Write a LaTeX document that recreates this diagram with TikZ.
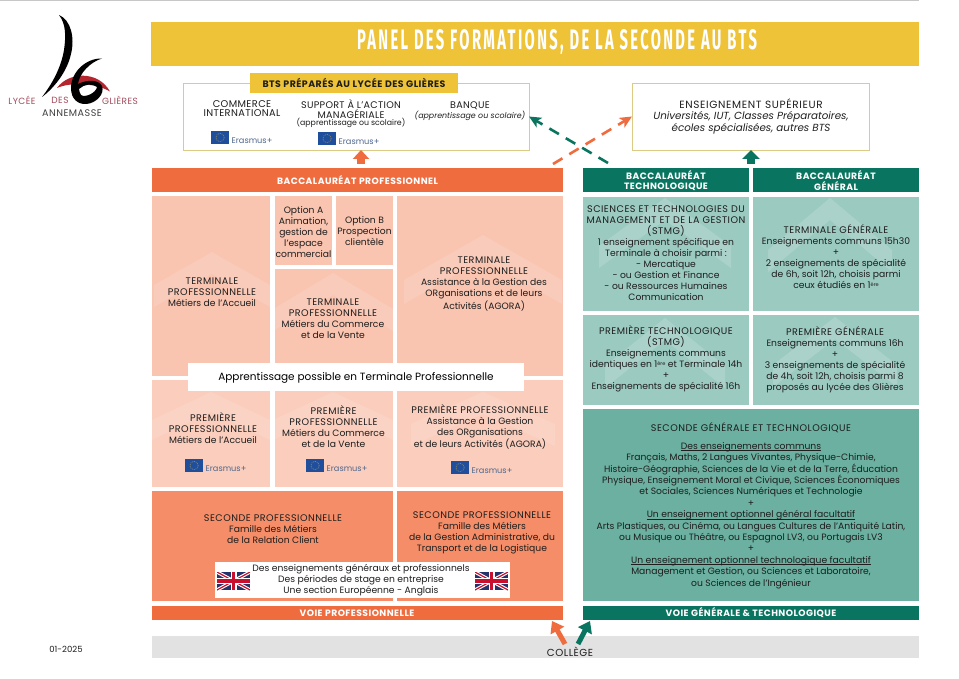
\documentclass[tikz,border=0pt]{standalone}
\usepackage{fontspec}
\usepackage{graphicx}
\setmainfont{Poppins}
\newfontfamily\titlefont[LetterSpace=16]{Fira Sans}
\usetikzlibrary{arrows.meta}
\definecolor{cyellow}{HTML}{EFC337}
\definecolor{ctan}{HTML}{DCCB85}
\definecolor{corange}{HTML}{EF6C3E}
\definecolor{cgreen}{HTML}{097560}
\definecolor{clo}{HTML}{F9C4B0}
\definecolor{cmo}{HTML}{F58E68}
\definecolor{clg}{HTML}{9BCAC0}
\definecolor{cmg}{HTML}{6BB0A0}
\definecolor{ctxt}{HTML}{1E1E1E}
\definecolor{cgrey}{HTML}{E2E2E2}
\definecolor{cflag}{HTML}{1F4E9C}
\definecolor{cdred}{HTML}{B5252E}
\definecolor{cjack}{HTML}{C8102E}
\definecolor{cnavy}{HTML}{26336B}
\definecolor{clogotxt}{HTML}{A24A5C}
\newcommand\sz[2]{\fontsize{#1}{#2}\selectfont}
\newcommand\capsl[1]{{\fontsize{9.6}{11}\selectfont\addfontfeature{LetterSpace=5}#1}}
\newcommand\ulin[1]{\leavevmode\setbox0\hbox{#1}\rlap{\rule[-1.6pt]{\wd0}{.5pt}}\box0}
\newcommand\supere{\raisebox{2.6pt}{\fontsize{5}{5}\selectfont ère}}
\tikzset{
  x=1pt,y=-1pt,
  txt/.style={align=center,inner sep=0pt,text=ctxt,font=\sz{9.2}{11}},
  bartxt/.style={align=center,inner sep=0pt,text=white,font=\bfseries\sz{9.2}{10.5}\addfontfeature{LetterSpace=5}},
  logotxt/.style={inner sep=0pt,text=clogotxt,font=\sz{9}{9}\addfontfeature{LetterSpace=5}},
  rectn/.style={inner sep=0pt,outer sep=0pt,anchor=north west},
  blockor/.style={line width=#1,draw=corange,-{Triangle[length=9pt,width=16pt]}},
  blockgr/.style={line width=#1,draw=cgreen,-{Triangle[length=9pt,width=17pt]}},
  dashor/.style={line width=2.6pt,draw=corange,dash pattern=on 11pt off 8pt,-{Stealth[length=12pt,width=11pt,inset=3pt]}},
  dashgr/.style={line width=2.6pt,draw=cgreen,dash pattern=on 11pt off 8pt,-{Stealth[length=12pt,width=11pt,inset=3pt]}},
  slantor/.style={line width=5pt,draw=corange,-{Triangle[length=11pt,width=15pt]}},
  slantgr/.style={line width=5pt,draw=cgreen,-{Triangle[length=11pt,width=15pt]}},
}
% name, x1, y1, x2, y2, options
\newcommand\rbox[6]{\node[rectn,minimum width={(#4-#2)*1pt},minimum height={(#5-#3)*1pt},#6] (#1) at (#2,#3) {};}
% chevron: opacity, cx, apex y, half width, drop, thickness
\newcommand\chev[6]{\fill[white,opacity=#1] (#2,#3) -- ({#2+#4},{#3+#5}) -- ({#2+#4},{#3+#5+#6}) -- (#2,{#3+#6}) -- ({#2-#4},{#3+#5+#6}) -- ({#2-#4},{#3+#5}) -- cycle;}
% erasmus: name, x, y
\newcommand\erasm[3]{%
  \node[rectn,fill=cflag,minimum width=18pt,minimum height=13pt] (#1) at (#2,#3) {};
  \draw[cyellow!70!cflag,line width=.5pt,dash pattern=on .9pt off 1pt] ({#2+9},{#3+6.5}) circle (4.2pt);
  \node[anchor=west,inner sep=0pt,text=black!35!cflag!75!white,font=\sz{8.2}{9}] (#1t) at ({#2+20.5},{#3+10}) {Erasmus+};}
% union flag: x, y
\newcommand\jack[2]{\begin{scope}[shift={(#1,#2)}]
  \clip (0,0) rectangle (33,18);
  \fill[cnavy] (0,0) rectangle (33,18);
  \draw[white,line width=3.4pt] (0,0) -- (33,18) (33,0) -- (0,18);
  \draw[cjack,line width=1.2pt] (0,0) -- (33,18) (33,0) -- (0,18);
  \draw[white,line width=6pt] (16.5,0) -- (16.5,18) (0,9) -- (33,9);
  \draw[cjack,line width=3.4pt] (16.5,0) -- (16.5,18) (0,9) -- (33,9);
\end{scope}}
\begin{document}
\begin{tikzpicture}
\useasboundingbox (0,0) rectangle (959,679);
\fill[white] (0,0) rectangle (959,679);
\fill[black!22] (0,0) rectangle (919,1.2);
% logo
\fill[cdred] (57,88) .. controls (68,72) and (98,70) .. (110,91.5) .. controls (96,83) and (70,82) .. (57,88) -- cycle;
\fill[black] (59,15) .. controls (71,20) and (75,38) .. (71,54) .. controls (67,72) and (54,88) .. (42,97) .. controls (52,84) and (61,68) .. (64,50) .. controls (66,36) and (66,24) .. (59,15) -- cycle;
\fill[black,even odd rule] (102,58.5) .. controls (86,58) and (71,72) .. (71,88) .. controls (71,99) and (78,104.5) .. (86,104) .. controls (96,103.5) and (105,94) .. (102,86) .. controls (99,80) and (88,79) .. (78,84) .. controls (79,74) and (90,62) .. (102,58.5) -- cycle
 (79,89) .. controls (84,84) and (93,83) .. (97,87) .. controls (96,93) and (85,98) .. (81,95) .. controls (80,93) and (79,91) .. (79,89) -- cycle;
\node[logotxt] (logoa) at (22,100) {LYCÉE};
\node[logotxt] (logob) at (60,100) {DES};
\node[logotxt] (logoc) at (120,100) {GLIÈRES};
\node[logotxt,text=black!75,font=\sz{9.6}{10}\addfontfeature{LetterSpace=5}] (logod) at (72,113.5) {ANNEMASSE};
\node[inner sep=0pt,text=ctxt,font=\sz{8.5}{9}] (date) at (66,649) {01-2025};
% title
\rbox{titlebar}{151}{22}{919}{66}{fill=cyellow}
\node[inner sep=0pt,text=white] (titletxt) at (557,41.5) {\resizebox*{400pt}{25pt}{\titlefont\bfseries PANEL DES FORMATIONS, DE LA SECONDE AU BTS}};
% top boxes
\rbox{bts}{183}{83}{529}{150}{draw=ctan,line width=.8pt}
\rbox{btslab}{250}{73}{458}{93}{fill=cyellow}
\node[txt,font=\bfseries\sz{9.4}{10}\addfontfeature{LetterSpace=5}] (btslabt) at (354,83) {BTS PRÉPARÉS AU LYCÉE DES GLIÈRES};
\node[txt,font=\sz{9.8}{9}\addfontfeature{LetterSpace=4}] (b1) at (242,108.5) {COMMERCE\\INTERNATIONAL};
\node[txt,font=\sz{9.6}{9.2}\addfontfeature{LetterSpace=3}] (b2) at (351,109) {SUPPORT À L’ACTION\\MANAGÉRIALE};
\node[txt,font=\sz{7.8}{9}] (b2b) at (351,123) {(apprentissage ou scolaire)};
\node[txt,font=\sz{9.6}{9}\addfontfeature{LetterSpace=3}] (b3) at (470,106) {BANQUE};
\node[txt,font=\itshape\sz{7.9}{9}] (b3b) at (470,116) {(apprentissage ou scolaire)};
\erasm{er1}{211}{131}
\erasm{er2}{318}{132}
\rbox{ens}{632}{83}{869}{150}{draw=ctan,line width=.8pt}
\node[txt,font=\sz{10.5}{12}\addfontfeature{LetterSpace=6}] (enst) at (751,104) {ENSEIGNEMENT SUPÉRIEUR};
\node[txt,font=\itshape\sz{10.3}{12}] (ensb) at (751,123) {Universités, IUT, Classes Préparatoires,\\écoles spécialisées, autres BTS};
% bars
\rbox{bacpro}{152}{168}{563}{192}{fill=corange}
\node[bartxt] (bacprot) at (357.5,180) {BACCALAURÉAT PROFESSIONNEL};
\rbox{bactec}{583}{168}{749}{192}{fill=cgreen}
\node[bartxt] (bactect) at (666,180.5) {BACCALAURÉAT\\TECHNOLOGIQUE};
\rbox{bacgen}{753}{168}{919}{192}{fill=cgreen}
\node[bartxt] (bacgent) at (836,180.5) {BACCALAURÉAT\\GÉNÉRAL};
% professional terminale
\rbox{tl}{152}{196}{270}{376}{fill=clo}
\rbox{opa}{275}{196}{332}{265}{fill=clo}
\rbox{opb}{336}{196}{393}{265}{fill=clo}
\rbox{tc}{275}{269}{393}{376}{fill=clo}
\rbox{tr}{397}{196}{563}{376}{fill=clo}
\chev{.13}{212}{252}{58}{33}{22}
\chev{.13}{333}{273}{60}{36}{22}
\chev{.13}{483}{235}{79}{45}{24}
\rbox{pl}{152}{380}{270}{487}{fill=clo!85!white}
\rbox{pc}{275}{380}{393}{487}{fill=clo!85!white}
\rbox{pr}{397}{380}{563}{487}{fill=clo!85!white}
\chev{.13}{211}{392}{59}{28}{20}
\chev{.13}{333}{392}{60}{28}{20}
\chev{.13}{483}{392}{72}{32}{22}
\rbox{appr}{188}{363}{524}{391}{fill=white}
\node[txt,font=\sz{10.5}{12},text=black] (apprt) at (356,378) {Apprentissage possible en Terminale Professionnelle};
\node[txt] (opat) at (303.5,232) {Option A\\Animation,\\gestion de\\l’espace\\commercial};
\node[txt] (opbt) at (364.5,231) {Option B\\Prospection\\clientèle};
\node[txt] (tlt) at (212,292) {\capsl{TERMINALE}\\\capsl{PROFESSIONNELLE}\\Métiers de l’Accueil};
\node[txt] (tct) at (333,318.5) {\capsl{TERMINALE}\\\capsl{PROFESSIONNELLE}\\Métiers du Commerce\\et de la Vente};
\node[txt] (trt) at (484,284) {\capsl{TERMINALE}\\\capsl{PROFESSIONNELLE}\\Assistance à la Gestion des\\ORganisations et de leurs\\Activités (AGORA)};
\node[txt] (plt) at (213,428) {\capsl{PREMIÈRE}\\\capsl{PROFESSIONNELLE}\\Métiers de l’Accueil};
\node[txt] (pct) at (333.5,427) {\capsl{PREMIÈRE}\\\capsl{PROFESSIONNELLE}\\Métiers du Commerce\\et de la Vente};
\node[txt] (prt) at (480,427) {\capsl{PREMIÈRE PROFESSIONNELLE}\\Assistance à la Gestion\\des ORganisations\\et de leurs Activités (AGORA)};
\erasm{er3}{185}{459}
\erasm{er4}{306}{459}
\erasm{er5}{451}{461}
% seconde pro
\rbox{sl}{152}{491}{393}{601}{fill=cmo}
\rbox{sr}{397}{491}{563}{601}{fill=cmo}
\node[txt] (slt) at (273,529) {\capsl{SECONDE PROFESSIONNELLE}\\Famille des Métiers\\de la Relation Client};
\node[txt] (srt) at (482,533) {\capsl{SECONDE PROFESSIONNELLE}\\Famille des Métiers\\de la Gestion Administrative, du\\Transport et de la Logistique};
\rbox{strip}{215}{562}{510}{598}{fill=white}
\node[txt] (stript) at (361,580) {Des enseignements généraux et professionnels\\Des périodes de stage en entreprise\\Une section Européenne - Anglais};
\jack{217}{572}
\jack{475}{572}
\rbox{voiepro}{152}{606}{563}{620}{fill=corange}
\node[bartxt] (voieprot) at (357,613) {VOIE PROFESSIONNELLE};
% green column
\rbox{stmg}{583}{197}{749}{311}{fill=clg}
\rbox{tg}{753}{197}{919}{311}{fill=clg}
\rbox{pt}{583}{315}{749}{405}{fill=clg}
\rbox{pg}{753}{315}{919}{405}{fill=clg}
\chev{.17}{665}{198}{66}{48}{22}
\chev{.17}{830}{198}{62}{52}{22}
\chev{.17}{665}{318}{60}{48}{22}
\chev{.17}{835}{317}{62}{48}{22}
\node[txt] (stmgt) at (666,253) {\capsl{SCIENCES ET TECHNOLOGIES DU}\\\capsl{MANAGEMENT ET DE LA GESTION}\\\capsl{(STMG)}\\1 enseignement spécifique en\\Terminale à choisir parmi :\\- Mercatique\\- ou Gestion et Finance\\- ou Ressources Humaines\\Communication};
\node[txt] (tgt) at (836,257) {\capsl{TERMINALE GÉNÉRALE}\\Enseignements communs 15h30\\+\\2 enseignements de spécialité\\de 6h, soit 12h, choisis parmi\\ceux étudiés en 1\supere};
\node[txt] (ptt) at (666,359) {\capsl{PREMIÈRE TECHNOLOGIQUE}\\\capsl{(STMG)}\\Enseignements communs\\identiques en 1\supere{} et Terminale 14h\\+\\Enseignements de spécialité 16h};
\node[txt] (pgt) at (835,360) {\capsl{PREMIÈRE GÉNÉRALE}\\Enseignements communs 16h\\+\\3 enseignements de spécialité\\de 4h, soit 12h, choisis parmi 8\\proposés au lycée des Glières};
\rbox{sgt}{583}{409}{919}{601}{fill=cmg}
\node[txt] (sgtt) at (751,428) {\capsl{SECONDE GÉNÉRALE ET TECHNOLOGIQUE}};
\node[txt,font=\sz{9.2}{11.4}] (sgtb) at (751,515.5) {\ulin{Des enseignements communs}\\Français, Maths, 2 Langues Vivantes, Physique-Chimie,\\Histoire-Géographie, Sciences de la Vie et de la Terre, Éducation\\Physique, Enseignement Moral et Civique, Sciences Économiques\\et Sociales, Sciences Numériques et Technologie\\+\\\ulin{Un enseignement optionnel général facultatif}\\Arts Plastiques, ou Cinéma, ou Langues Cultures de l’Antiquité Latin,\\ou Musique ou Théâtre, ou Espagnol LV3, ou Portugais LV3\\+\\\ulin{Un enseignement optionnel technologique facultatif}\\Management et Gestion, ou Sciences et Laboratoire,\\ou Sciences de l’Ingénieur};
\rbox{voiegt}{583}{606}{919}{620}{fill=cgreen}
\node[bartxt] (voiegtt) at (751,613) {VOIE GÉNÉRALE \& TECHNOLOGIQUE};
% college
\rbox{college}{152}{636}{919}{658}{fill=cgrey}
\node[txt,font=\sz{10.2}{11}\addfontfeature{LetterSpace=5}] (collegt) at (570,652) {COLLÈGE};
% connectors
\coordinate (c1) at (361,164);
\coordinate (c2) at (751,164);
\coordinate (c3) at (553,164);
\coordinate (c4) at (608,163);
\coordinate (c5) at (565,644);
\coordinate (c6) at (578,644);
\coordinate (t5) at (552,621);
\coordinate (t6) at (590,621);
\draw[blockor=7.5pt] (c1) -- (c1 |- bts.south);
\draw[blockgr=7.5pt] (c2) -- (c2 |- ens.south);
\draw[dashor] (c3) -- (ens.west);
\draw[dashgr] (c4) -- (bts.east);
\draw[slantor] (c5) -- (t5);
\draw[slantgr] (c6) -- (t6);
\end{tikzpicture}
\end{document}
